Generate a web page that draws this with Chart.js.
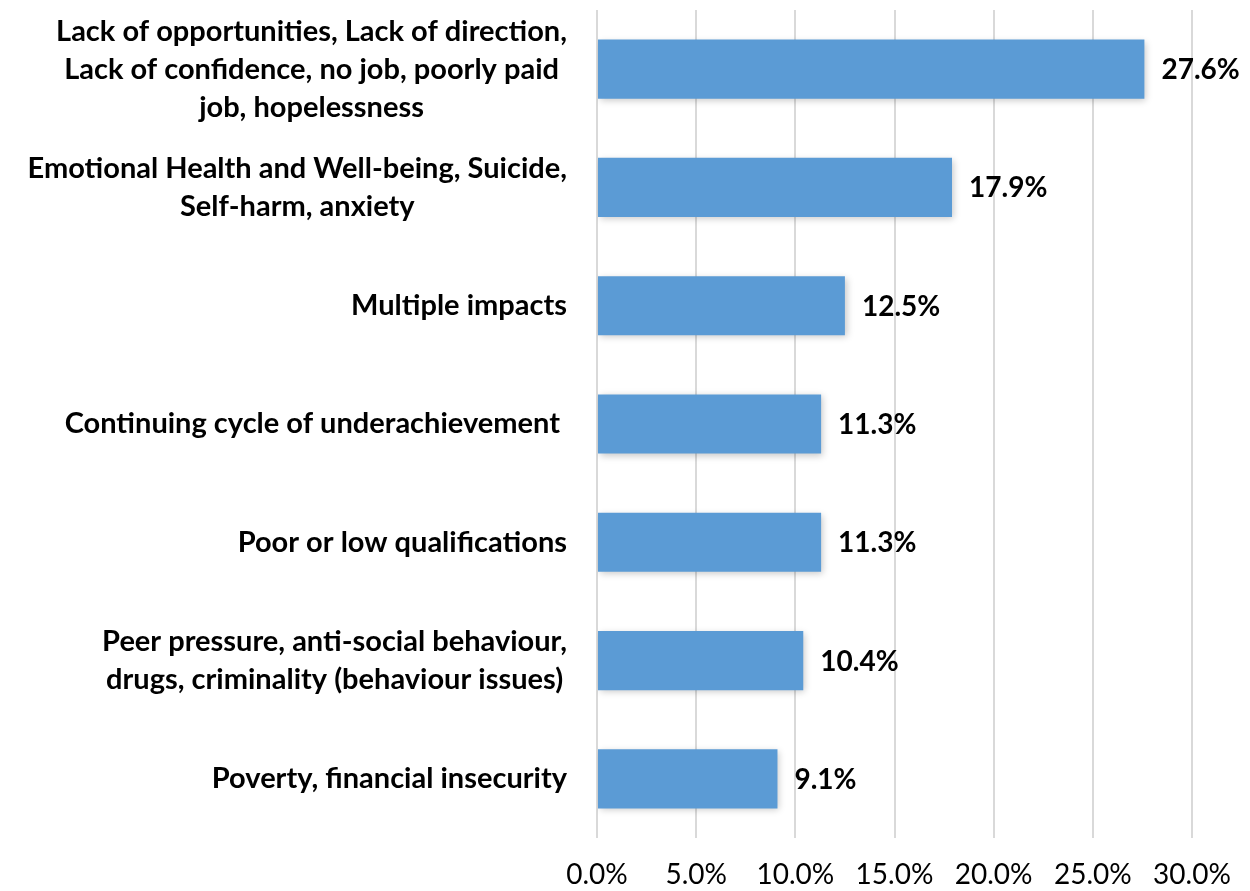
<!DOCTYPE html>
<html>
<head>
<meta charset="utf-8">
<title>Impacts</title>
<script src="https://cdn.jsdelivr.net/npm/chart.js@4.4.1/dist/chart.umd.min.js"></script>
<style>
  html, body { margin: 0; padding: 0; background: #fff; }
  #wrap { width: 1250px; height: 891px; }
</style>
</head>
<body>
<div id="wrap"><canvas id="impactChart" width="1250" height="891"></canvas></div>
<script>
// categories, one array of lines per bar (top to bottom)
const categories = [
    ['Lack of opportunities, Lack of direction,', 'Lack of confidence, no job, poorly paid', 'job, hopelessness'],
    ['Emotional Health and Well-being, Suicide,', 'Self-harm, anxiety'],
    ['Multiple impacts'],
    ['Continuing cycle of underachievement '],
    ['Poor or low qualifications'],
    ['Peer pressure, anti-social behaviour,', 'drugs, criminality (behaviour issues)'],
    ['Poverty, financial insecurity']
];
const shares = [27.6, 17.9, 12.5, 11.3, 11.3, 10.4, 9.1];
const xTicks = [0, 5, 10, 15, 20, 25, 30];

const FONT = 'Lato, "Open Sans", sans-serif';
const BAR_BLUE = '#5B9BD5';

// soft drop shadow under the bars
const barShadow = {
    id: 'barShadow',
    beforeDatasetsDraw(chart) {
        const ctx = chart.ctx;
        ctx.save();
        ctx.shadowColor = 'rgba(0,0,0,0.22)';
        ctx.shadowBlur = 7;
        ctx.shadowOffsetX = 2;
        ctx.shadowOffsetY = 2;
    },
    afterDatasetsDraw(chart) {
        chart.ctx.restore();
    }
};

// value labels to the right of each bar
const valueLabels = {
    id: 'valueLabels',
    afterDatasetsDraw(chart) {
        const ctx = chart.ctx;
        const meta = chart.getDatasetMeta(0);
        ctx.save();
        ctx.font = 'bold 28px ' + FONT;
        ctx.fillStyle = '#000';
        ctx.textAlign = 'left';
        ctx.textBaseline = 'middle';
        meta.data.forEach((bar, i) => {
            ctx.fillText(shares[i].toFixed(1) + '%', bar.x + 17, bar.y + 1);
        });
        ctx.restore();
    }
};

// category labels: each block right-aligned to the axis, lines centred inside the block
const categoryLabels = {
    id: 'categoryLabels',
    afterDraw(chart) {
        const ctx = chart.ctx;
        const y = chart.scales.y;
        const right = chart.chartArea.left - 30;
        const lineH = 38;
        ctx.save();
        ctx.font = 'bold 29px ' + FONT;
        ctx.fillStyle = '#000';
        ctx.textAlign = 'center';
        ctx.textBaseline = 'middle';
        categories.forEach((lines, i) => {
            const w = Math.max(...lines.map(l => ctx.measureText(l).width));
            const cx = right - w / 2;
            const cy = y.getPixelForValue(i);
            const top = cy - (lines.length - 1) * lineH / 2;
            lines.forEach((l, j) => ctx.fillText(l, cx, top + j * lineH));
        });
        ctx.restore();
    }
};

new Chart(document.getElementById('impactChart'), {
    type: 'bar',
    data: {
        labels: categories.map(c => c.join(' ')),
        datasets: [{
            data: shares,
            backgroundColor: BAR_BLUE,
            borderWidth: 0,
            barPercentage: 0.5,
            categoryPercentage: 1.0
        }]
    },
    options: {
        indexAxis: 'y',
        responsive: false,
        animation: false,
        layout: { padding: { left: 597, right: 58, top: 10, bottom: 0 } },
        plugins: {
            legend: { display: false },
            tooltip: { enabled: false }
        },
        scales: {
            x: {
                min: 0,
                max: 30,
                afterBuildTicks(scale) {
                    scale.ticks = xTicks.map(v => ({ value: v }));
                },
                afterFit(scale) {
                    // fixed band under the plot for the percent ticks
                    scale.height = 53;
                    scale.paddingLeft = 0;
                    scale.paddingRight = 0;
                },
                grid: { color: '#d9d9d9', lineWidth: 2, drawTicks: false },
                border: { display: false },
                ticks: {
                    padding: 23,
                    color: '#000',
                    font: { family: FONT, size: 28, lineHeight: 1.0 },
                    callback: v => v.toFixed(1) + '%'
                }
            },
            y: {
                display: false
            }
        }
    },
    plugins: [barShadow, valueLabels, categoryLabels]
});
</script>
</body>
</html>
